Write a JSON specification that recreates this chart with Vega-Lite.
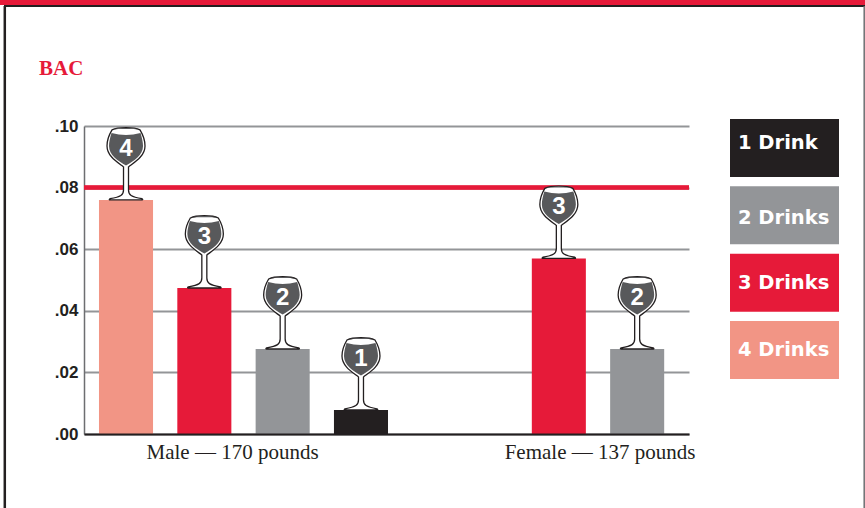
{
"$schema":"https://vega.github.io/schema/vega-lite/v6.json",
"autosize":{"type":"none"},
"padding":{"left":84,"top":126,"right":176,"bottom":74},
"width":605,"height":308,
"background":"white",
"title":{"text":"BAC","anchor":"start","frame":"group","dx":-45,"offset":0,"dy":79,"font":"Liberation Serif","fontSize":21,"fontWeight":"bold","color":"#e61a39"},
"config":{"view":{"stroke":null}},
"datasets":{
"bars":[
{"group":"Male — 170 pounds","drinks":"4","bac":0.076},
{"group":"Male — 170 pounds","drinks":"3","bac":0.0474},
{"group":"Male — 170 pounds","drinks":"2","bac":0.0276},
{"group":"Male — 170 pounds","drinks":"1","bac":0.0078},
{"group":"Female — 137 pounds","drinks":"3","bac":0.057},
{"group":"Female — 137 pounds","drinks":"2","bac":0.0276}],
"key":[
{"drinks":"1","label":"1 Drink"},
{"drinks":"2","label":"2 Drinks"},
{"drinks":"3","label":"3 Drinks"},
{"drinks":"4","label":"4 Drinks"}],
"frame":[{"part":"page"}]
},
"resolve":{"scale":{"x":"independent","y":"independent","xOffset":"independent","color":"independent"},"axis":{"x":"independent","y":"independent"}},
"layer":[
{
"data":{"name":"frame"},
"encoding":{},
"layer":[
{"mark":{"type":"rule","color":"#e61a39","strokeWidth":5},
 "encoding":{"x":{"datum":0,"type":"quantitative","scale":{"domain":[0,865],"range":[-84,781]},"axis":null},"x2":{"datum":865},"y":{"datum":2.5,"type":"quantitative","scale":{"domain":[0,508],"range":[-126,382]},"axis":null}}},
{"mark":{"type":"rule","color":"#231f20","strokeWidth":2},
 "encoding":{"x":{"datum":4,"type":"quantitative","scale":{"domain":[0,865],"range":[-84,781]},"axis":null},"x2":{"datum":865},"y":{"datum":6,"type":"quantitative","scale":{"domain":[0,508],"range":[-126,382]},"axis":null}}},
{"mark":{"type":"rule","color":"#231f20","strokeWidth":2.5},
 "encoding":{"x":{"datum":4.8,"type":"quantitative","scale":{"domain":[0,865],"range":[-84,781]},"axis":null},"y":{"datum":6,"type":"quantitative","scale":{"domain":[0,508],"range":[-126,382]},"axis":null},"y2":{"datum":508}}},
{"mark":{"type":"rule","color":"#6d6e71","strokeWidth":1.5},
 "encoding":{"x":{"datum":864.2,"type":"quantitative","scale":{"domain":[0,865],"range":[-84,781]},"axis":null},"y":{"datum":6,"type":"quantitative","scale":{"domain":[0,508],"range":[-126,382]},"axis":null},"y2":{"datum":508}}}
]},
{
"data":{"name":"bars"},
"encoding":{
 "x":{"field":"group","type":"nominal","sort":["Male — 170 pounds","Female — 137 pounds"],
  "scale":{"paddingInner":0.5,"paddingOuter":0.1033,"align":0.968},
  "axis":{"title":null,"ticks":false,"labelAngle":0,"labelFont":"Liberation Serif","labelFontSize":21,"labelLimit":300,"labelColor":"#231f20","labelPadding":7,"labelOffset":{"condition":{"test":"indexof(datum.label,'Male')==0","value":-11},"value":2},"domainColor":"#231f20","domainWidth":2,"zindex":1}},
 "xOffset":{"field":"drinks","type":"nominal","sort":["4","3","2","1"],"scale":{"range":[-68.05,245.25],"paddingInner":0.31,"paddingOuter":0.155}},
 "y":{"field":"bac","type":"quantitative","scale":{"domain":[0,0.1],"nice":false},
  "axis":{"title":null,"values":[0,0.02,0.04,0.06,0.08,0.1],"ticks":false,"grid":true,"gridColor":"#939598","gridWidth":2,"domainColor":"#6d6e71","domainWidth":1.5,"labelFont":"Liberation Sans","labelFontWeight":"bold","labelFontSize":17,"labelColor":"#231f20","labelPadding":6,"labelExpr":"replace(format(datum.value,'.2f'),'0.','.')"}}
},
"layer":[
{"mark":{"type":"bar"},"encoding":{"color":{"field":"drinks","type":"nominal","legend":null,"scale":{"domain":["1","2","3","4"],"range":["#231f20","#939598","#e61a39","#f29585"]}}}},
{"mark":{"type":"rule","color":"#e61a39","strokeWidth":3.5},"encoding":{"x":null,"xOffset":null,"y":{"datum":0.08,"type":"quantitative"}}},
{"mark":{"type":"point","opacity":1,"filled":true,"fill":"white","stroke":"#231f20","strokeWidth":1.3,"size":4,"shape":"M-14,-70 C-17,-65 -19,-60 -19,-54 C-19,-44 -9,-38 -2.5,-33 L-2.5,-10 C-2.5,-5 -5,-3 -16,-1.2 Q-17.5,0 -16,0 L16,0 Q17.5,0 16,-1.2 C5,-3 2.5,-5 2.5,-10 L2.5,-33 C9,-38 19,-44 19,-54 C19,-60 17,-65 14,-70 C8,-73 -8,-73 -14,-70Z"}},
{"mark":{"type":"point","opacity":1,"filled":true,"fill":"#58595b","stroke":null,"size":4,"shape":"M-14.5,-67 Q0,-63 14.5,-67 C16,-62 17,-58 17,-54 C17,-45 8,-39 0,-34.5 C-8,-39 -17,-45 -17,-54 C-17,-58 -16,-62 -14.5,-67Z M-13,-70.5 C-7,-72.5 7,-72.5 13,-70.5 C7,-71 -7,-71 -13,-70.5Z"}},
{"mark":{"type":"text","font":"Liberation Sans","fontWeight":"bold","fontSize":24,"color":"white","dy":-51,"baseline":"middle"},"encoding":{"text":{"field":"drinks"}}}
]},
{
"data":{"name":"key"},
"encoding":{
 "y":{"field":"drinks","type":"nominal","scale":{"domain":["1","2","3","4"],"range":[-7,253],"paddingInner":0.1386,"paddingOuter":0},"axis":null}
},
"layer":[
{"mark":{"type":"bar"},"encoding":{
 "x":{"datum":0,"type":"quantitative","scale":{"domain":[0,109],"range":[646,755]},"axis":null},"x2":{"datum":109},
 "color":{"field":"drinks","type":"nominal","legend":null,"scale":{"domain":["1","2","3","4"],"range":["#231f20","#939598","#e61a39","#f29585"]}}}},
{"transform":[{"filter":"datum.drinks=='1'"}],"mark":{"type":"text","font":"DejaVu Sans","fontWeight":"bold","fontSize":19.5,"color":"white","align":"left","baseline":"middle","dy":-5},"encoding":{
 "x":{"datum":8,"type":"quantitative","scale":{"domain":[0,109],"range":[646,755]},"axis":null},
 "text":{"field":"label"}}},
{"transform":[{"filter":"datum.drinks=='2'"}],"mark":{"type":"text","font":"DejaVu Sans","fontWeight":"bold","fontSize":19.5,"color":"white","align":"left","baseline":"middle","dy":2.5},"encoding":{
 "x":{"datum":8,"type":"quantitative","scale":{"domain":[0,109],"range":[646,755]},"axis":null},
 "text":{"field":"label"}}},
{"transform":[{"filter":"datum.drinks=='3' || datum.drinks=='4'"}],"mark":{"type":"text","font":"DejaVu Sans","fontWeight":"bold","fontSize":19.5,"color":"white","align":"left","baseline":"middle"},"encoding":{
 "x":{"datum":8,"type":"quantitative","scale":{"domain":[0,109],"range":[646,755]},"axis":null},
 "text":{"field":"label"}}}
]}
]
}
